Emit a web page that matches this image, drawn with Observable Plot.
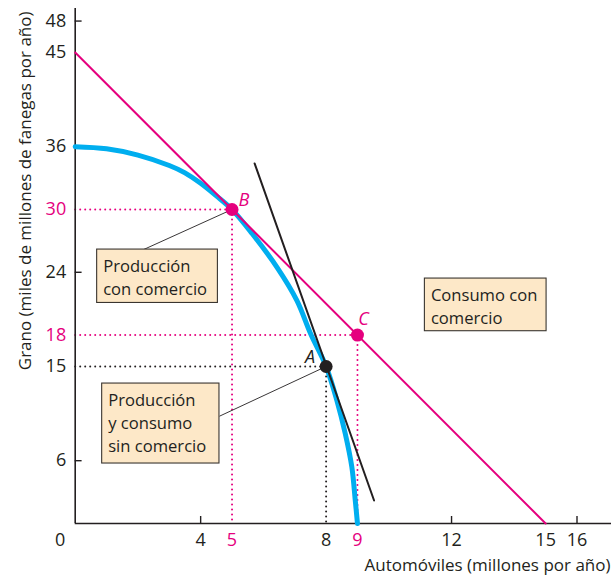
<!DOCTYPE html>
<html><head><meta charset="utf-8">
<script src="https://cdn.jsdelivr.net/npm/d3@7"></script>
<script src="https://cdn.jsdelivr.net/npm/@observablehq/plot@0.6"></script>
<style>body{margin:0;background:#fff}svg{display:block}</style>
</head><body><div id="chart"></div>
<script>
// Production possibilities frontier
const ppfX = [0, 1, 2, 3, 3.5, 4, 4.5, 5, 5.64, 6.43, 7.07, 7.51, 8, 8.34, 8.61, 8.82, 8.93, 9];
const ppfY = [36, 35.8, 35.2, 34.2, 33.5, 32.5, 31.3, 30, 27.7, 24.5, 21.3, 18.1, 15, 11.8, 8.6, 5.4, 2.2, 0];
// Trade line and tangent (opportunity cost) line
const tradeX = [0, 15];
const tradeY = [45, 0];
const tangentX = [5.72, 9.53];
const tangentY = [34.4, 2.2];
// Points
const pointNames = ["A", "B", "C"];
const pointX = [8, 5, 9];
const pointY = [15, 30, 18];
// Ticks
const yTickLabels = [48, 45, 36, 30, 24, 18, 15, 6];
const xTickLabels = [4, 5, 8, 9, 12, 15, 16];
const yTickMarks = [48, 24, 6];
const xTickMarks = [4, 12, 16];
const highlightY = [30, 18];
const highlightX = [5, 9];
// Annotation boxes
const boxText = ["Producción\ncon comercio", "Producción\ny consumo\nsin comercio", "Consumo con\ncomercio"];
const boxX1 = [0.70, 0.86, 11.15];
const boxX2 = [4.55, 4.60, 15.03];
const boxYTop = [26.17, 13.37, 23.4];
const boxYBottom = [21.07, 5.73, 18.37];
// Leader lines (box -> point)
const leaderFromX = [2.18, 4.60];
const leaderFromY = [26.17, 10.25];
const leaderToX = [5, 8];
const leaderToY = [30, 15];

const MAG = "#e5007e", BLUE = "#00aeef", INK = "#231f20";
const FONT = "'Open Sans', Lato, sans-serif";

const dottedMag = [
  {x1: 0, y1: 30, x2: 5, y2: 30}, {x1: 5, y1: 30, x2: 5, y2: 0},
  {x1: 0, y1: 18, x2: 9, y2: 18}, {x1: 9, y1: 18, x2: 9, y2: 0}
];
const dottedBlack = [{x1: 0, y1: 15, x2: 8, y2: 15}, {x1: 8, y1: 15, x2: 8, y2: 0}];

const ppf = ppfX.map((x, i) => ({x, y: ppfY[i]}));
const trade = tradeX.map((x, i) => ({x, y: tradeY[i]}));
const tangent = tangentX.map((x, i) => ({x, y: tangentY[i]}));
const pts = pointNames.map((n, i) => ({n, x: pointX[i], y: pointY[i]}));
const boxes = boxText.map((t, i) => ({t, x1: boxX1[i], x2: boxX2[i], y1: boxYTop[i], y2: boxYBottom[i]}));
const leaders = leaderFromX.map((x, i) => ({x1: x, y1: leaderFromY[i], x2: leaderToX[i], y2: leaderToY[i]}));

const letter = (name, dx, dy, fill) =>
  Plot.text(pts.filter(p => p.n === name), {x: "x", y: "y", text: "n", fontSize: 18, fontStyle: "italic", fill, dx, dy});

const chart = Plot.plot({
  width: 612, height: 581,
  marginLeft: 74.7, marginRight: 1, marginTop: 8, marginBottom: 58,
  style: {fontFamily: FONT, background: "#fff"},
  x: {domain: [0, 17.1], axis: null},
  y: {domain: [0, 49.2], axis: null},
  color: {type: "identity"},
  marks: [
    // dotted guides
    Plot.link(dottedMag, {x1: "x1", y1: "y1", x2: "x2", y2: "y2", stroke: MAG, strokeWidth: 2, strokeDasharray: "0,5", strokeLinecap: "round"}),
    Plot.link(dottedBlack, {x1: "x1", y1: "y1", x2: "x2", y2: "y2", stroke: INK, strokeWidth: 2, strokeDasharray: "0,5", strokeLinecap: "round"}),
    // axes
    Plot.ruleX([0], {stroke: INK, strokeWidth: 1.6}),
    Plot.ruleY([0], {stroke: INK, strokeWidth: 1.6}),
    Plot.ruleY(yTickMarks, {y: d => d, x1: 0, x2: 0.22, stroke: INK, strokeWidth: 1.4}),
    Plot.ruleX(xTickMarks, {x: d => d, y1: 0, y2: 0.67, stroke: INK, strokeWidth: 1.4}),
    // curves and lines
    Plot.line(ppf, {x: "x", y: "y", stroke: BLUE, strokeWidth: 5, curve: "catmull-rom"}),
    Plot.line(trade, {x: "x", y: "y", stroke: MAG, strokeWidth: 2}),
    Plot.line(tangent, {x: "x", y: "y", stroke: INK, strokeWidth: 2}),
    // leaders
    Plot.link(leaders, {x1: "x1", y1: "y1", x2: "x2", y2: "y2", stroke: INK, strokeWidth: 0.9}),
    // boxes
    Plot.rect(boxes, {x1: "x1", x2: "x2", y1: "y1", y2: "y2", fill: "#fde8c8", stroke: "#3a3530", strokeWidth: 1.1}),
    Plot.text(boxes, {x: "x1", y: "y1", text: "t", textAnchor: "start", lineAnchor: "top", dx: 6, dy: 6, fontSize: 16.6, lineHeight: 1.38, fill: INK}),
    // points
    Plot.dot(pts, {x: "x", y: "y", r: 6.5, fill: d => d.n === "A" ? INK : MAG, stroke: "none"}),
    letter("A", -16, -9, INK),
    letter("B", 12, -9, MAG),
    letter("C", 6, -16, MAG),
    // tick labels
    Plot.text(yTickLabels, {x: 0, y: d => d, text: d => String(d), textAnchor: "end", dx: -9, fontSize: 18,
      fill: d => highlightY.includes(d) ? MAG : INK}),
    Plot.text(xTickLabels, {x: d => d, y: 0, text: d => String(d), dy: 17, fontSize: 18,
      fill: d => highlightX.includes(d) ? MAG : INK}),
    Plot.text(["0"], {x: 0, y: 0, text: d => d, dx: -15, dy: 17, fontSize: 18, fill: INK}),
    // axis titles
    Plot.text(["Automóviles (millones por año)"], {frameAnchor: "bottom-right", text: d => d, textAnchor: "end", dy: 47, dx: -1, fontSize: 17, fill: INK}),
    Plot.text(["Grano (miles de millones de fanegas por año)"], {frameAnchor: "top-left", text: d => d, rotate: -90, textAnchor: "end", dx: -56.5, dy: 3, fontSize: 17, fill: INK})
  ]
});

document.getElementById("chart").append(chart);
</script>
</body></html>
